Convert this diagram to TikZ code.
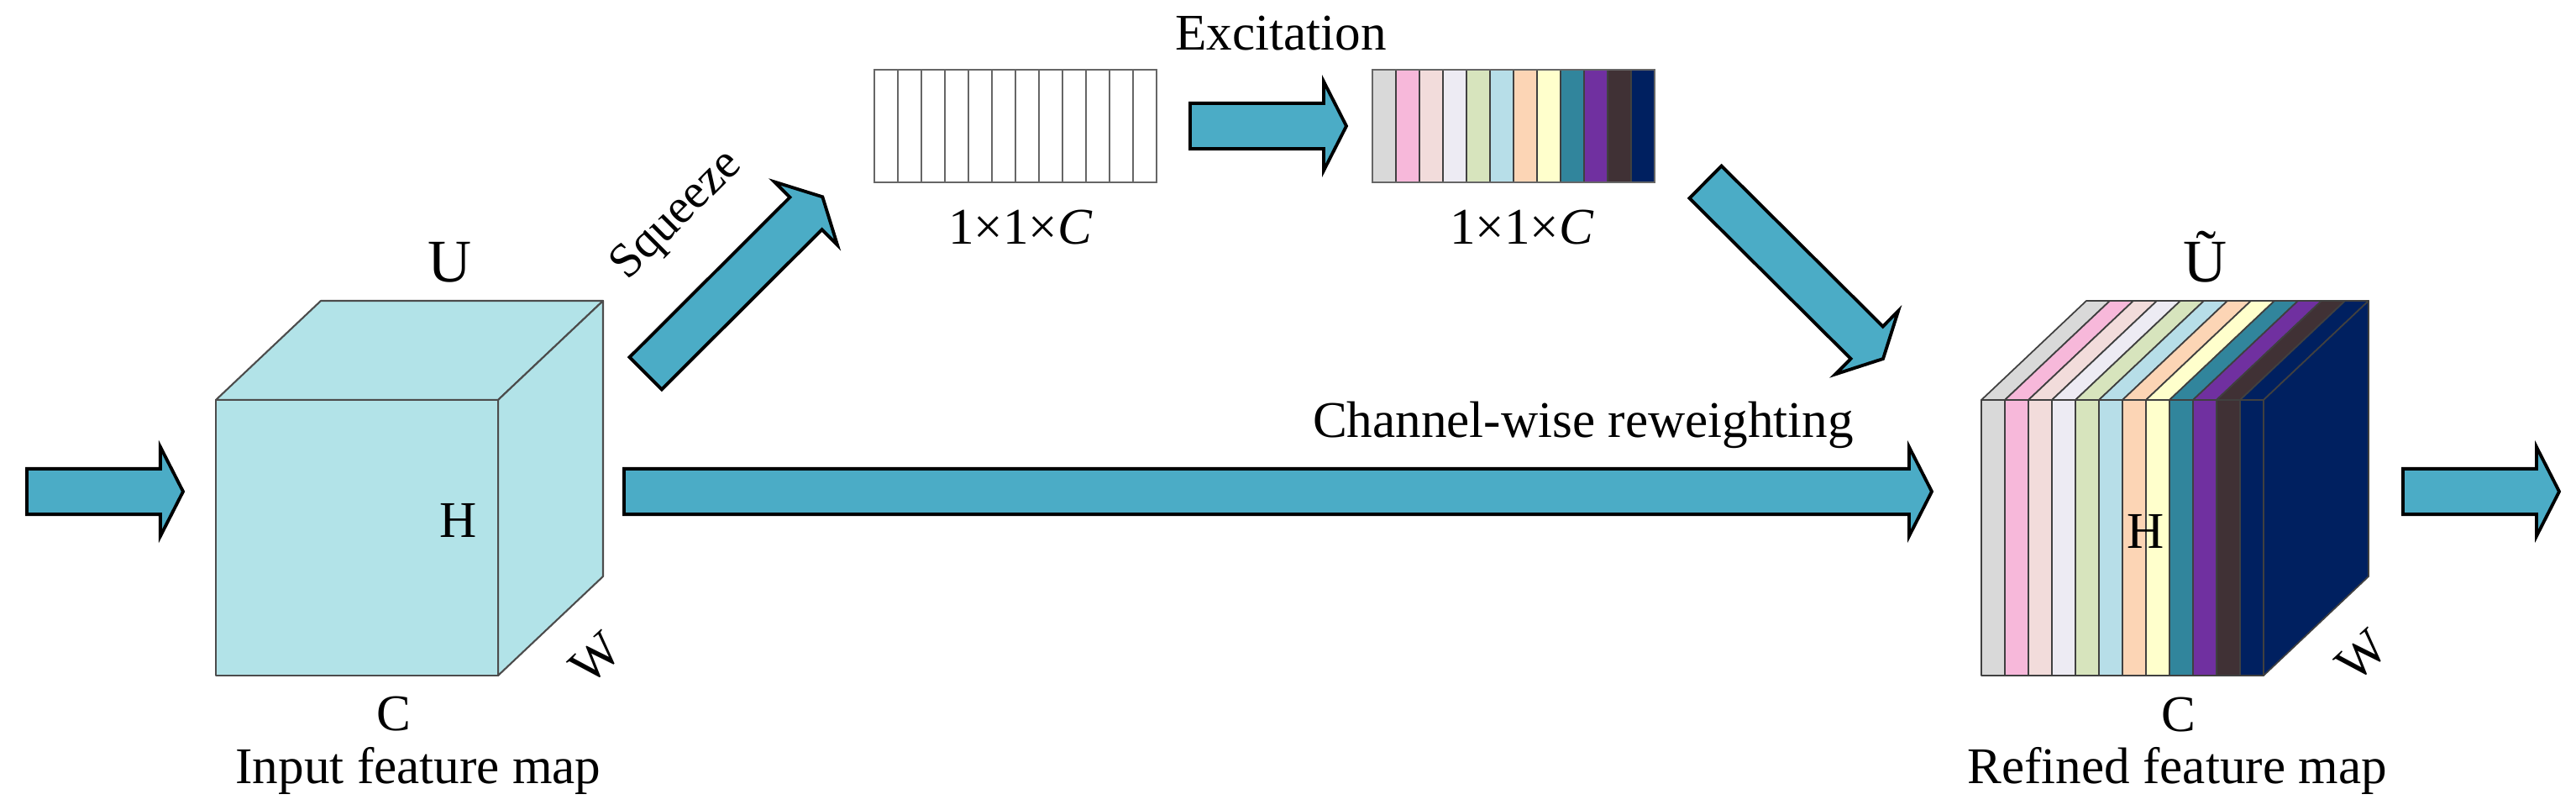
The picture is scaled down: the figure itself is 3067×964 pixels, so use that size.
\documentclass[tikz,border=0pt]{standalone}
\usepackage{fontspec}
\setmainfont{Liberation Serif}
\usetikzlibrary{calc}
\definecolor{arrowblue}{HTML}{4BACC6}
\definecolor{cubecyan}{HTML}{B2E3E8}
\definecolor{sA}{HTML}{D9D9D9}
\definecolor{sB}{HTML}{F7B8DA}
\definecolor{sC}{HTML}{F2DCDB}
\definecolor{sD}{HTML}{EDEBF3}
\definecolor{sE}{HTML}{D7E4BD}
\definecolor{sF}{HTML}{B7DEE8}
\definecolor{sG}{HTML}{FCD5B5}
\definecolor{sH}{HTML}{FFFFCC}
\definecolor{sI}{HTML}{31859C}
\definecolor{sJ}{HTML}{7030A0}
\definecolor{sK}{HTML}{403135}
\definecolor{sL}{HTML}{002060}
\begin{document}
\begin{tikzpicture}[x=0.01cm,y=-0.01cm,
  font=\fontsize{17.4}{20}\selectfont,
  lbl/.style={inner sep=0pt, outer sep=0pt},
  biglbl/.style={inner sep=0pt, outer sep=0pt, font=\fontsize{20.5}{24}\selectfont},
  cubeline/.style={draw=black!70, line width=0.6pt, line join=round},
  stripeline/.style={draw=black!75, line width=0.5pt, line join=round},
  barbox/.style={draw=black!60, line width=0.6pt, minimum width=3.36cm, minimum height=1.34cm, inner sep=0pt, outer sep=0pt},
  blockarrow/.style={draw=black, line width=1.1pt, fill=arrowblue, line join=miter, miter limit=10,
    to path={let \p1=(\tikztostart), \p2=(\tikztotarget),
      \n1={atan2(\y2-\y1,\x2-\x1)}, \n2={veclen(\x2-\x1,\y2-\y1)-7.7pt} in
      ($(\p1)+(\n1+90:7.7pt)$) -- ($(\p1)+(\n1:\n2)+(\n1+90:7.7pt)$)
      -- ($(\p1)+(\n1:\n2)+(\n1+90:15.1pt)$) -- (\p2)
      -- ($(\p1)+(\n1:\n2)+(\n1-90:15.1pt)$) -- ($(\p1)+(\n1:\n2)+(\n1-90:7.7pt)$)
      -- ($(\p1)+(\n1-90:7.7pt)$) -- cycle}}]
\useasboundingbox (0,0) rectangle (3067,964);

% ---------- input cube ----------
\filldraw[cubeline, fill=cubecyan] (257,476) -- (382,358) -- (718,358) -- (593,476) -- cycle;
\filldraw[cubeline, fill=cubecyan] (593,476) -- (718,358) -- (718,686) -- (593,804) -- cycle;
\filldraw[cubeline, fill=cubecyan] (257,476) rectangle (593,804);
\node[biglbl, anchor=base] (U1) at (536,336) {U};
\node[lbl, anchor=base] (H1) at (546,639) {H};
\node[lbl, anchor=base] (C1) at (469,869) {C};
\node[lbl, rotate=43] (W1) at (709,783) {W};
\node[lbl, anchor=base] (inlabel) at (498,932) {Input feature map};

% ---------- refined cube ----------
\foreach \c [count=\i from 0] in {sA,sB,sC,sD,sE,sF,sG,sH,sI,sJ,sK,sL}{
  \filldraw[stripeline, fill=\c] (2359+\i*28,476) -- (2387+\i*28,476) -- (2512+\i*28,358) -- (2484+\i*28,358) -- cycle;
  \filldraw[stripeline, fill=\c] (2359+\i*28,476) rectangle (2387+\i*28,804);
}
\filldraw[stripeline, fill=sL] (2695,476) -- (2820,358) -- (2820,686) -- (2695,804) -- cycle;
\node[biglbl, anchor=base] (U2) at (2625,336) {Ũ};
\node[lbl, anchor=base] (H2) at (2555,652) {H};
\node[lbl, anchor=base] (C2) at (2594,870) {C};
\node[lbl, rotate=43] (W2) at (2812,780) {W};
\node[lbl, anchor=base] (outlabel) at (2592,932) {Refined feature map};

% ---------- 1x1xC vectors ----------
\node[barbox, fill=white] (sq) at (1209,150) {};
\foreach \i in {1,...,11}{
  \draw[draw=black!60, line width=0.5pt] (1041+\i*28,83) -- (1041+\i*28,217);
}
\foreach \c [count=\i from 0] in {sA,sB,sC,sD,sE,sF,sG,sH,sI,sJ,sK,sL}{
  \filldraw[stripeline, fill=\c] (1634+\i*28,83) rectangle (1662+\i*28,217);
}
\node[barbox, fill=none] (ex) at (1802,150) {};
\node[lbl, anchor=base] (sqdim) at (1215,291) {1×1×\textit{C}};
\node[lbl, anchor=base] (exdim) at (1812,291) {1×1×\textit{C}};
\node[lbl, anchor=base] (extext) at (1525,60) {Excitation};
\node[lbl, rotate=45, font=\fontsize{16.5}{18}\selectfont] (sqtext) at (807,257) {Squeeze};
\node[lbl, anchor=base] (cwtext) at (1885,520) {Channel-wise reweighting};

% ---------- block arrows ----------
\coordinate (inA) at (32,585);   \coordinate (inB) at (218,585);
\coordinate (mA) at (743,585);   \coordinate (mB) at (2300,585);
\coordinate (oA) at (2861,585);  \coordinate (oB) at (3047,585);
\coordinate (sA1) at (768.7,444.3); \coordinate (sB1) at (979.3,234.3);
\coordinate (eA) at (1417,150);  \coordinate (eB) at (1603,150);
\coordinate (dA) at (2030.5,216.7); \coordinate (dB) at (2242,427);
\draw[blockarrow] (inA) to (inB);
\draw[blockarrow] (mA) to (mB);
\draw[blockarrow] (oA) to (oB);
\draw[blockarrow] (sA1) to (sB1);
\draw[blockarrow] (eA) to (eB);
\draw[blockarrow] (dA) to (dB);
\end{tikzpicture}
\end{document}
